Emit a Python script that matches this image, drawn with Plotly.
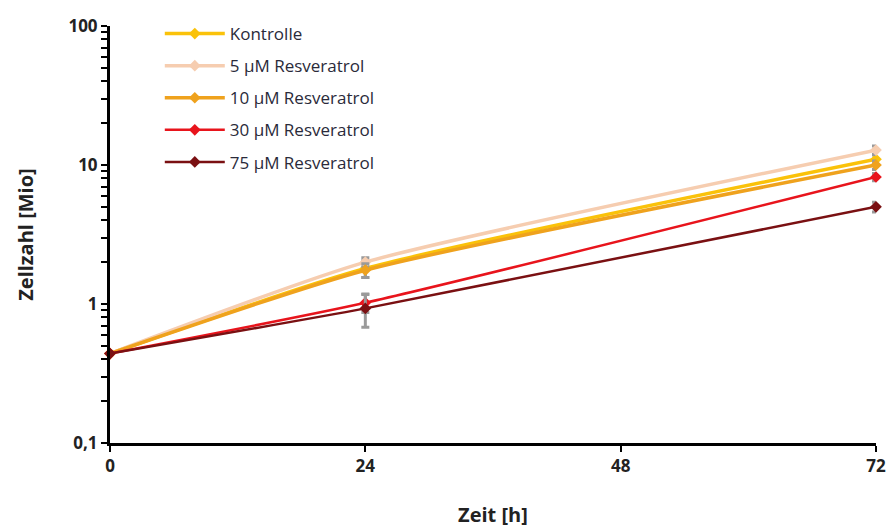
import plotly.graph_objects as go

zeit = [0, 24, 72]
serien = ["Kontrolle", "5 µM Resveratrol", "10 µM Resveratrol", "30 µM Resveratrol", "75 µM Resveratrol"]
kontrolle = [0.44, 1.80, 11.0]
res5 = [0.44, 2.00, 12.8]
res10 = [0.44, 1.75, 10.0]
res30 = [0.44, 1.02, 8.2]
res75 = [0.44, 0.93, 5.0]
err_kontrolle = [0.0, 0.25, 0.8]
err_res5 = [0.0, 0.15, 0.9]
err_res10 = [0.0, 0.20, 0.7]
err_res30 = [0.0, 0.15, 0.5]
err_res75 = [0.0, 0.25, 0.4]
farben = ["#FAC20A", "#F6CDB0", "#EFA21D", "#E8141C", "#7A1012"]
y_ticks = [0.1, 1, 10, 100]
y_ticklabels = ["0,1", "1", "10", "100"]

werte = [kontrolle, res5, res10, res30, res75]
fehler = [err_kontrolle, err_res5, err_res10, err_res30, err_res75]
breiten = [3.5, 3.5, 3.5, 2.5, 2.5]

fig = go.Figure()
for i, (name, y, e, c, w) in enumerate(zip(serien, werte, fehler, farben, breiten)):
    fig.add_trace(go.Scatter(
        x=zeit, y=y, name=name, mode="lines+markers", legendgroup=f"g{i}",
        line=dict(color=c, width=w, shape="spline", smoothing=0.6),
        marker=dict(symbol="diamond", size=9, color=c),
        error_y=dict(type="data", array=e, color="#9A9A9A", thickness=3, width=4),
        cliponaxis=False,
    ))

# major + minor tick positions on the log axis (minor ones unlabeled)
tv, tt = [], []
for v, lab in zip(y_ticks, y_ticklabels):
    tv.append(v)
    tt.append(lab)
    if v < 100:
        for k in range(2, 10):
            tv.append(k * v)
            tt.append("")

fig.update_layout(
    width=888, height=531,
    margin=dict(l=110, r=12, t=26, b=88, autoexpand=False),
    paper_bgcolor="white", plot_bgcolor="white",
    font=dict(family="Open Sans", color="#222222"),
    showlegend=True,
    legend=dict(
        x=0.065, y=1.024, xanchor="left", yanchor="top",
        font=dict(size=17, color="#2a2a3a", family="Open Sans"),
        bgcolor="rgba(0,0,0,0)", itemwidth=60, tracegroupgap=7,
    ),
    xaxis=dict(
        range=[0, 72], tickvals=[0, 24, 48, 72], ticktext=["0", "24", "48", "72"],
        showline=True, linecolor="black", linewidth=3, mirror=False,
        ticks="outside", ticklen=6, tickwidth=2, tickcolor="black",
        showgrid=False, zeroline=False, automargin=False,
        tickfont=dict(size=17, family="Open Sans", color="#222222", weight="bold"),
        title=dict(text="<b>Zeit [h]</b>", font=dict(size=20, color="#222222"), standoff=32),
    ),
    yaxis=dict(
        type="log", range=[-1, 2], automargin=False,
        tickmode="array", tickvals=tv, ticktext=tt,
        showline=True, linecolor="black", linewidth=3,
        ticks="outside", ticklen=6, tickwidth=2, tickcolor="black",
        showgrid=False, zeroline=False,
        tickfont=dict(size=17, family="Open Sans", color="#222222", weight="bold"),
        title=dict(text="<b>Zellzahl [Mio]</b>", font=dict(size=20, color="#222222"), standoff=30),
    ),
)

fig.write_html("out.html")
